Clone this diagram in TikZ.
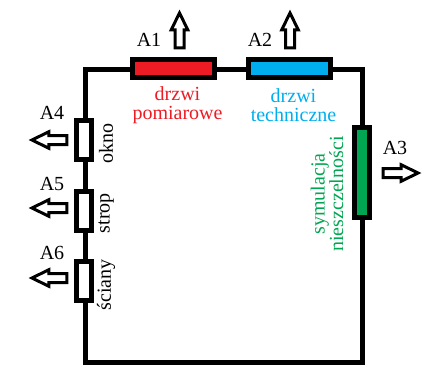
\documentclass[tikz,border=0pt]{standalone}
\usepackage{fontspec}
\setmainfont{Liberation Serif}
\usetikzlibrary{shapes.arrows}
\definecolor{cred}{RGB}{237,28,36}
\definecolor{cblue}{RGB}{0,174,239}
\definecolor{cgreen}{RGB}{0,166,81}
\begin{document}
\begin{tikzpicture}[x=1pt,y=-1pt,
  wire/.style={line width=5pt},
  hbox/.style={draw=black, line width=5pt, minimum width=82pt, minimum height=18pt, inner sep=0pt},
  vbox/.style={draw=black, line width=5pt, fill=white, minimum width=15pt, minimum height=39pt, inner sep=0pt},
  outarrow/.style={single arrow, draw=black, fill=white, line width=3pt, inner xsep=0pt, inner ysep=3pt, text height=0pt, text depth=0pt, text width=0pt, minimum height=35pt, single arrow head extend=3.8pt, single arrow tip angle=52, anchor=tip},
  lab/.style={font=\fontsize{20}{18.5}\selectfont, inner sep=0pt, align=center},
]
\useasboundingbox (0,0) rectangle (431,367);
\coordinate (tl) at (85,69);
\coordinate (tr) at (362,69);
\coordinate (br) at (362,362);
\coordinate (bl) at (85,362);
\draw[wire] (tl) -- (tr) -- (br) -- (bl) -- cycle;
% top boxes
\node[hbox, fill=cred] (b1) at (173.5,68.5) {};
\node[hbox, fill=cblue] (b2) at (289,68.5) {};
% right box
\node[vbox, fill=cgreen, minimum height=90pt] (b3) at (362,172.5) {};
% left boxes
\node[vbox] (b4) at (84,140) {};
\node[vbox] (b5) at (84,210.5) {};
\node[vbox] (b6) at (84,280.5) {};
% arrows
\node[outarrow, rotate=90] (a1) at (179.5,9.5) {};
\node[outarrow, rotate=90] (a2) at (290,9.5) {};
\node[outarrow] (a3) at (421.5,173) {};
\node[outarrow, rotate=180] (a4) at (28.5,140) {};
\node[outarrow, rotate=180] (a5) at (28.5,208) {};
\node[outarrow, rotate=180] (a6) at (28.5,278) {};
% labels
\node[lab] (l1) at (149,40) {A1};
\node[lab] (l2) at (260,40) {A2};
\node[lab] (l3) at (395,148) {A3};
\node[lab] (l4) at (52,113) {A4};
\node[lab] (l5) at (52,184) {A5};
\node[lab] (l6) at (52,253) {A6};
% texts
\node[lab, text=cred] (t1) at (177.5,105) {drzwi\\pomiarowe};
\node[lab, text=cblue] (t2) at (293.5,105) {drzwi\\techniczne};
\node[lab, text=cgreen, rotate=90] (t3) at (327,194) {symulacja\\nieszczelności};
\node[lab, rotate=90] (t4) at (106,143) {okno};
\node[lab, rotate=90] (t5) at (106,213) {strop};
\node[lab, rotate=90] (t6) at (106,285) {ściany};
\end{tikzpicture}
\end{document}
